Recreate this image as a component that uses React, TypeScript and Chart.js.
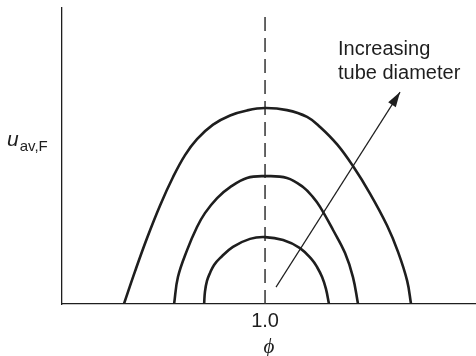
import React, { useEffect, useRef } from "react";
import { Chart, registerables } from "chart.js";

Chart.register(...registerables);

// phi values and u_av,F values for the three curves (small -> large tube diameter)
const innerPhi = [0.700, 0.704, 0.714, 0.729, 0.749, 0.778, 0.842, 0.926, 1.0, 1.089, 1.172, 1.232, 1.256, 1.281, 1.300, 1.315];
const innerU = [0, 0.041, 0.078, 0.105, 0.132, 0.155, 0.193, 0.220, 0.226, 0.216, 0.189, 0.149, 0.125, 0.091, 0.051, 0];

const middlePhi = [0.552, 0.571, 0.616, 0.665, 0.704, 0.764, 0.828, 0.911, 1.0, 1.108, 1.187, 1.236, 1.271, 1.335, 1.394, 1.433, 1.458];
const middleU = [0, 0.091, 0.182, 0.260, 0.307, 0.358, 0.395, 0.426, 0.432, 0.426, 0.395, 0.361, 0.328, 0.250, 0.172, 0.091, 0];

const outerPhi = [0.305, 0.360, 0.419, 0.483, 0.547, 0.606, 0.665, 0.744, 0.828, 0.911, 1.0, 1.108, 1.207, 1.271, 1.355, 1.433, 1.517, 1.601, 1.655, 1.700, 1.719];
const outerU = [0, 0.111, 0.223, 0.333, 0.429, 0.503, 0.557, 0.606, 0.637, 0.654, 0.662, 0.655, 0.632, 0.598, 0.539, 0.466, 0.373, 0.265, 0.176, 0.078, 0];

// dashed reference line at phi = 1.0
const refPhi = [1.0, 1.0];
const refU = [0.97, 0];

// arrow "Increasing tube diameter"
const arrowPhi = [1.054, 1.665];
const arrowU = [0.057, 0.716];

const xTickValues = [1.0];
const xTickLabels = ["1.0"];
const xTitle = "\u03D5";
const yTitleMain = "u";
const yTitleSub = "av,F";
const annotationLines = ["Increasing", "tube diameter"];

const INK = "#1e1e1e";
const SANS = "'Liberation Sans', Arial, Helvetica, sans-serif";

const toPts = (xs: number[], ys: number[]) => xs.map((x, i) => ({ x, y: ys[i] }));

const overlayPlugin = {
  id: "overlay",
  afterDatasetsDraw(chart: any) {
    const ctx = chart.ctx;
    const xs = chart.scales.x;
    const ys = chart.scales.y;
    // arrow head
    const x0 = xs.getPixelForValue(arrowPhi[0]);
    const y0 = ys.getPixelForValue(arrowU[0]);
    const x1 = xs.getPixelForValue(arrowPhi[1]);
    const y1 = ys.getPixelForValue(arrowU[1]);
    const ang = Math.atan2(y1 - y0, x1 - x0);
    const len = 15;
    const hw = 4.5;
    ctx.save();
    ctx.fillStyle = INK;
    ctx.beginPath();
    ctx.moveTo(x1, y1);
    ctx.lineTo(x1 - len * Math.cos(ang) + hw * Math.sin(ang), y1 - len * Math.sin(ang) - hw * Math.cos(ang));
    ctx.lineTo(x1 - len * Math.cos(ang) - hw * Math.sin(ang), y1 - len * Math.sin(ang) + hw * Math.cos(ang));
    ctx.closePath();
    ctx.fill();

    // annotation text
    ctx.font = `20px ${SANS}`;
    ctx.textAlign = "left";
    ctx.textBaseline = "alphabetic";
    annotationLines.forEach((t, i) => ctx.fillText(t, 338, 55 + i * 24));

    // y axis label with subscript
    ctx.font = `italic 21px ${SANS}`;
    ctx.fillText(yTitleMain, 7, 146);
    const w = ctx.measureText(yTitleMain).width;
    ctx.font = `15px ${SANS}`;
    ctx.fillText(yTitleSub, 7 + w + 1, 151);
    ctx.restore();
  },
};

export default function App() {
  const ref = useRef<HTMLCanvasElement | null>(null);
  useEffect(() => {
    if (!ref.current) return;
    const curve = (xs: number[], ys: number[]) => ({
      data: toPts(xs, ys),
      showLine: true,
      borderColor: INK,
      borderWidth: 2.6,
      pointRadius: 0,
      tension: 0.4,
      fill: false,
    });
    const chart = new Chart(ref.current, {
      type: "scatter",
      data: {
        datasets: [
          curve(innerPhi, innerU),
          curve(middlePhi, middleU),
          curve(outerPhi, outerU),
          {
            data: toPts(refPhi, refU),
            showLine: true,
            borderColor: "#333",
            borderWidth: 1.5,
            borderDash: [14, 7],
            pointRadius: 0,
          },
          {
            data: toPts(arrowPhi, arrowU),
            showLine: true,
            borderColor: INK,
            borderWidth: 1.2,
            pointRadius: 0,
          },
        ],
      },
      options: {
        responsive: false,
        animation: false,
        layout: { padding: { left: 62, top: 8, right: 0, bottom: 0 } },
        plugins: { legend: { display: false }, tooltip: { enabled: false } },
        scales: {
          x: {
            type: "linear",
            min: 0,
            max: 2.039,
            grid: { display: false, drawTicks: false },
            border: { display: true, color: INK, width: 1.3 },
            afterBuildTicks: (scale: any) => {
              scale.ticks = xTickValues.map((v) => ({ value: v }));
            },
            afterFit: (scale: any) => {
              scale.height = 52;
            },
            ticks: {
              color: INK,
              font: { family: SANS, size: 20 },
              padding: 5,
              maxRotation: 0,
              autoSkip: false,
              callback: (_v: any, i: number) => xTickLabels[i],
            },
            title: {
              display: true,
              text: xTitle,
              color: INK,
              font: { family: "'Liberation Serif', 'DejaVu Serif', serif", size: 21, style: "italic", lineHeight: 0.85 },
              padding: { top: 0, bottom: 0 },
            },
          },
          y: {
            type: "linear",
            min: 0,
            max: 1,
            grid: { display: false, drawTicks: false },
            border: { display: true, color: INK, width: 1.3 },
            ticks: { display: false },
          },
        },
      },
      plugins: [overlayPlugin],
    });
    return () => chart.destroy();
  }, []);
  return (
    <div style={{ position: "absolute", left: 0, top: 0, width: 476, height: 356, background: "#fff" }}>
      <canvas ref={ref} width={476} height={356} />
    </div>
  );
}
